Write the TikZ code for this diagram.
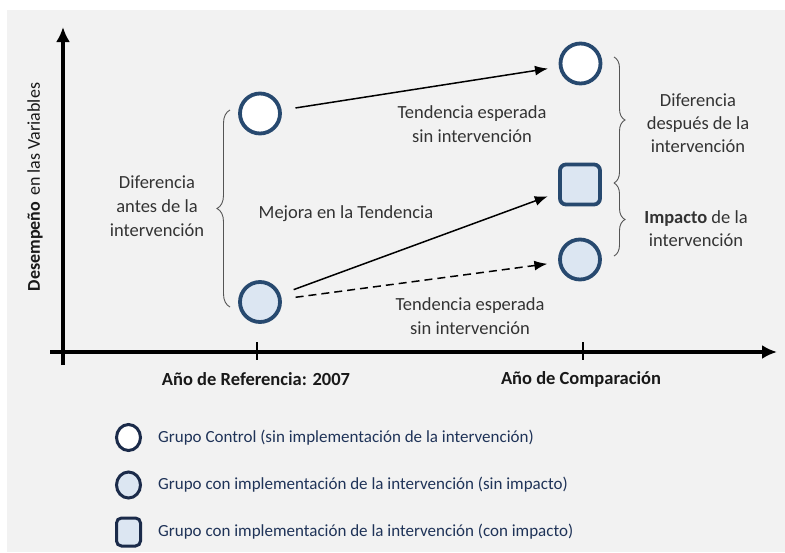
\documentclass[tikz,border=0pt]{standalone}
\usepackage{fontspec}
\setmainfont{Carlito}
\usetikzlibrary{arrows.meta,shapes.geometric,decorations.pathreplacing}
\definecolor{bgcol}{HTML}{F2F2F2}
\definecolor{shapeline}{HTML}{27496F}
\definecolor{legline}{HTML}{1B2B4A}
\definecolor{lightfill}{HTML}{DCE6F2}
\definecolor{txtgray}{HTML}{333333}
\definecolor{legtxt}{HTML}{1F3358}
\definecolor{bracecol}{HTML}{555555}
\tikzset{
  lbl/.style={font=\fontsize{18.5}{24}\selectfont, text=txtgray, align=center, inner sep=0pt},
  axlbl/.style={font=\fontsize{18.5}{24}\selectfont\bfseries, text=black!90, inner sep=0pt},
  legtext/.style={font=\fontsize{17}{21}\selectfont, text=legtxt, anchor=west, inner sep=0pt},
  ctrl/.style={circle, draw=shapeline, line width=3.8pt, fill=white, minimum size=40pt, inner sep=0pt},
  treat/.style={ctrl, fill=lightfill},
  impact/.style={rectangle, rounded corners=6pt, draw=shapeline, line width=3.8pt, fill=lightfill, minimum size=40pt, inner sep=0pt},
  legctrl/.style={ellipse, draw=legline, line width=3pt, fill=white, minimum width=24pt, minimum height=26pt, inner sep=0pt},
  legtreat/.style={legctrl, fill=lightfill},
  legimpact/.style={rectangle, rounded corners=5pt, draw=legline, line width=3pt, fill=lightfill, minimum width=24pt, minimum height=28pt, inner sep=0pt},
  trend/.style={line width=1.5pt, -{Latex[length=13pt,width=10pt]}, shorten <=14pt, shorten >=11pt},
  axis/.style={line width=3.5pt, -{Latex[length=15pt,width=14pt]}},
  tick/.style={line width=2.5pt},
  brc/.style={decorate, decoration={brace, amplitude=11pt}, draw=bracecol, line width=0.9pt}
}
\begin{document}
\begin{tikzpicture}[x=1pt,y=-1pt]
\useasboundingbox (0,0) rectangle (785,552);
\fill[bgcol] (7,10) rectangle (785,552);

% axes
\coordinate (yb) at (63,365);
\coordinate (yt) at (63,27);
\coordinate (xl) at (50,352);
\coordinate (xr) at (777,352);
\draw[axis] (yb) -- (yt);
\draw[axis] (xl) -- (xr);
\coordinate (t1a) at (257,342); \coordinate (t1b) at (257,360);
\coordinate (t2a) at (583,342); \coordinate (t2b) at (583,360);
\draw[tick] (t1a) -- (t1b);
\draw[tick] (t2a) -- (t2b);

% axis labels
\node[axlbl] (xref) at (256,379) {Año de Referencia: 2007};
\node[axlbl] (xcmp) at (581,379) {Año de Comparación};
\node[font=\fontsize{18}{22}\selectfont, text=black!90, rotate=90, inner sep=0pt] (ylab) at (35,187) {\textbf{Desempeño}\hspace{6pt}en las Variables};

% group nodes
\node[ctrl] (cA) at (260,113.5) {};
\node[treat] (cB) at (260,302) {};
\node[ctrl] (dA) at (580.5,63.5) {};
\node[impact] (dS) at (580,184.5) {};
\node[treat] (dB) at (580,259.5) {};

% trends
\draw[trend] (cA) -- (dA);
\draw[trend] (cB) -- (dS);
\draw[trend, dash pattern=on 8pt off 5pt] (cB) -- (dB);

% braces
\coordinate (lb1) at (230,307);
\coordinate (lb2) at (230,110);
\draw[brc, decoration={amplitude=13pt}] (lb1) -- (lb2);
\coordinate (rb1) at (614,57);
\coordinate (rb2) at (614,183);
\coordinate (rb3) at (614,256);
\draw[brc] (rb1) -- (rb2);
\draw[brc] (rb2) -- (rb3);

% labels
\node[lbl] (antes) at (157,206) {Diferencia\\antes de la\\intervención};
\node[lbl] (mejora) at (346,214) {Mejora en la Tendencia};
\node[lbl] (tend1) at (472,124) {Tendencia esperada\\sin intervención};
\node[lbl] (tend2) at (470,316) {Tendencia esperada\\sin intervención};
\node[lbl, font=\fontsize{18.5}{23}\selectfont] (despues) at (698,123) {Diferencia\\después de la\\intervención};
\node[lbl, font=\fontsize{18.5}{23}\selectfont] (impacto) at (696,229) {\textbf{Impacto} de la\\intervención};

% legend
\node[legctrl] (l1) at (128.5,437.5) {};
\node[legtreat] (l2) at (128.5,485) {};
\node[legimpact] (l3) at (128.5,532) {};
\node[legtext] (l1t) at (158,438) {Grupo Control (sin implementación de la intervención)};
\node[legtext] (l2t) at (158,485) {Grupo con implementación de la intervención (sin impacto)};
\node[legtext] (l3t) at (158,532) {Grupo con implementación de la intervención (con impacto)};
\end{tikzpicture}
\end{document}
